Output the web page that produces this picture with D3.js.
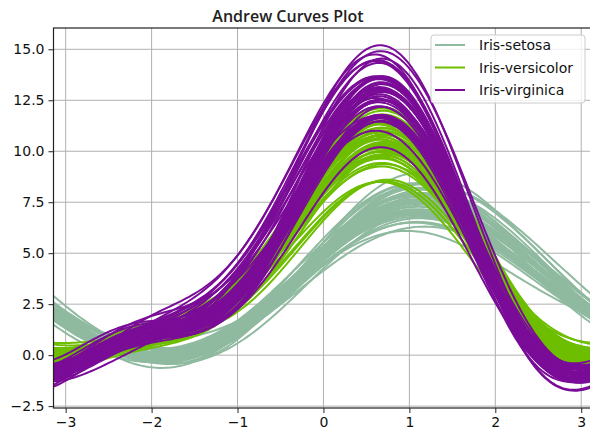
<!DOCTYPE html>
<html>
<head>
<meta charset="utf-8">
<script src="https://cdn.jsdelivr.net/npm/d3@7"></script>
<style>
  body { margin: 0; background: #fff; }
  svg { display: block; }
  text { font-family: "DejaVu Sans", sans-serif; }
</style>
</head>
<body>
<svg id="chart" width="590" height="432"></svg>
<script>
// Iris measurements: [sepal length, sepal width, petal length, petal width]
const setosa = [
  [5.1,3.5,1.4,0.2],[4.9,3.0,1.4,0.2],[4.7,3.2,1.3,0.2],[4.6,3.1,1.5,0.2],[5.0,3.6,1.4,0.2],
  [5.4,3.9,1.7,0.4],[4.6,3.4,1.4,0.3],[5.0,3.4,1.5,0.2],[4.4,2.9,1.4,0.2],[4.9,3.1,1.5,0.1],
  [5.4,3.7,1.5,0.2],[4.8,3.4,1.6,0.2],[4.8,3.0,1.4,0.1],[4.3,3.0,1.1,0.1],[5.8,4.0,1.2,0.2],
  [5.7,4.4,1.5,0.4],[5.4,3.9,1.3,0.4],[5.1,3.5,1.4,0.3],[5.7,3.8,1.7,0.3],[5.1,3.8,1.5,0.3],
  [5.4,3.4,1.7,0.2],[5.1,3.7,1.5,0.4],[4.6,3.6,1.0,0.2],[5.1,3.3,1.7,0.5],[4.8,3.4,1.9,0.2],
  [5.0,3.0,1.6,0.2],[5.0,3.4,1.6,0.4],[5.2,3.5,1.5,0.2],[5.2,3.4,1.4,0.2],[4.7,3.2,1.6,0.2],
  [4.8,3.1,1.6,0.2],[5.4,3.4,1.5,0.4],[5.2,4.1,1.5,0.1],[5.5,4.2,1.4,0.2],[4.9,3.1,1.5,0.1],
  [5.0,3.2,1.2,0.2],[5.5,3.5,1.3,0.2],[4.9,3.1,1.5,0.1],[4.4,3.0,1.3,0.2],[5.1,3.4,1.5,0.2],
  [5.0,3.5,1.3,0.3],[4.5,2.3,1.3,0.3],[4.4,3.2,1.3,0.2],[5.0,3.5,1.6,0.6],[5.1,3.8,1.9,0.4],
  [4.8,3.0,1.4,0.3],[5.1,3.8,1.6,0.2],[4.6,3.2,1.4,0.2],[5.3,3.7,1.5,0.2],[5.0,3.3,1.4,0.2]
];
const versicolor = [
  [7.0,3.2,4.7,1.4],[6.4,3.2,4.5,1.5],[6.9,3.1,4.9,1.5],[5.5,2.3,4.0,1.3],[6.5,2.8,4.6,1.5],
  [5.7,2.8,4.5,1.3],[6.3,3.3,4.7,1.6],[4.9,2.4,3.3,1.0],[6.6,2.9,4.6,1.3],[5.2,2.7,3.9,1.4],
  [5.0,2.0,3.5,1.0],[5.9,3.0,4.2,1.5],[6.0,2.2,4.0,1.0],[6.1,2.9,4.7,1.4],[5.6,2.9,3.6,1.3],
  [6.7,3.1,4.4,1.4],[5.6,3.0,4.5,1.5],[5.8,2.7,4.1,1.0],[6.2,2.2,4.5,1.5],[5.6,2.5,3.9,1.1],
  [5.9,3.2,4.8,1.8],[6.1,2.8,4.0,1.3],[6.3,2.5,4.9,1.5],[6.1,2.8,4.7,1.2],[6.4,2.9,4.3,1.3],
  [6.6,3.0,4.4,1.4],[6.8,2.8,4.8,1.4],[6.7,3.0,5.0,1.7],[6.0,2.9,4.5,1.5],[5.7,2.6,3.5,1.0],
  [5.5,2.4,3.8,1.1],[5.5,2.4,3.7,1.0],[5.8,2.7,3.9,1.2],[6.0,2.7,5.1,1.6],[5.4,3.0,4.5,1.5],
  [6.0,3.4,4.5,1.6],[6.7,3.1,4.7,1.5],[6.3,2.3,4.4,1.3],[5.6,3.0,4.1,1.3],[5.5,2.5,4.0,1.3],
  [5.5,2.6,4.4,1.2],[6.1,3.0,4.6,1.4],[5.8,2.6,4.0,1.2],[5.0,2.3,3.3,1.0],[5.6,2.7,4.2,1.3],
  [5.7,3.0,4.2,1.2],[5.7,2.9,4.2,1.3],[6.2,2.9,4.3,1.3],[5.1,2.5,3.0,1.1],[5.7,2.8,4.1,1.3]
];
const virginica = [
  [6.3,3.3,6.0,2.5],[5.8,2.7,5.1,1.9],[7.1,3.0,5.9,2.1],[6.3,2.9,5.6,1.8],[6.5,3.0,5.8,2.2],
  [7.6,3.0,6.6,2.1],[4.9,2.5,4.5,1.7],[7.3,2.9,6.3,1.8],[6.7,2.5,5.8,1.8],[7.2,3.6,6.1,2.5],
  [6.5,3.2,5.1,2.0],[6.4,2.7,5.3,1.9],[6.8,3.0,5.5,2.1],[5.7,2.5,5.0,2.0],[5.8,2.8,5.1,2.4],
  [6.4,3.2,5.3,2.3],[6.5,3.0,5.5,1.8],[7.7,3.8,6.7,2.2],[7.7,2.6,6.9,2.3],[6.0,2.2,5.0,1.5],
  [6.9,3.2,5.7,2.3],[5.6,2.8,4.9,2.0],[7.7,2.8,6.7,2.0],[6.3,2.7,4.9,1.8],[6.7,3.3,5.7,2.1],
  [7.2,3.2,6.0,1.8],[6.2,2.8,4.8,1.8],[6.1,3.0,4.9,1.8],[6.4,2.8,5.6,2.1],[7.2,3.0,5.8,1.6],
  [7.4,2.8,6.1,1.9],[7.9,3.8,6.4,2.0],[6.4,2.8,5.6,2.2],[6.3,2.8,5.1,1.5],[6.1,2.6,5.6,1.4],
  [7.7,3.0,6.1,2.3],[6.3,3.4,5.6,2.4],[6.4,3.1,5.5,1.8],[6.0,3.0,4.8,1.8],[6.9,3.1,5.4,2.1],
  [6.7,3.1,5.6,2.4],[6.9,3.1,5.1,2.3],[5.8,2.7,5.1,1.9],[6.8,3.2,5.9,2.3],[6.7,3.3,5.7,2.5],
  [6.7,3.0,5.2,2.3],[6.3,2.5,5.0,1.9],[6.5,3.0,5.2,2.0],[6.2,3.4,5.4,2.3],[5.9,3.0,5.1,1.8]
];

const classNames  = ["Iris-setosa", "Iris-versicolor", "Iris-virginica"];
const classColors = ["#8fbaa0", "#6ebe00", "#7a0c98"];
const xTicks = [-3, -2, -1, 0, 1, 2, 3];
const yTicks = [-2.5, 0, 2.5, 5, 7.5, 10, 12.5, 15];
const titleText = "Andrew Curves Plot";
const nSamples = 200;

// Andrews transform: f(t) = x1/sqrt(2) + x2 sin t + x3 cos t + x4 sin 2t
function andrews(row) {
  const [x1, x2, x3, x4] = row;
  return t => x1 / Math.SQRT2 + x2 * Math.sin(t) + x3 * Math.cos(t) + x4 * Math.sin(2 * t);
}

const ts = d3.range(nSamples).map(i => -Math.PI + 2 * Math.PI * i / (nSamples - 1));
const groups = [setosa, versicolor, virginica];
const curves = [];
groups.forEach((rows, ci) => rows.forEach(r => {
  const f = andrews(r);
  curves.push({ ci, pts: ts.map(t => [t, f(t)]) });
}));

const allY = curves.flatMap(c => c.pts.map(p => p[1]));
const [lo, hi] = d3.extent(allY);
const pad = (hi - lo) * 0.05;

const plot = { left: 53.5, right: 593.4, top: 28, bottom: 408 };
const x = d3.scaleLinear().domain([-Math.PI, Math.PI]).range([plot.left, plot.right]);
const y = d3.scaleLinear().domain([lo - pad, hi + pad]).range([plot.bottom, plot.top]);

const svg = d3.select("#chart");
svg.append("rect").attr("width", 590).attr("height", 432).attr("fill", "#fff");

svg.append("defs").append("clipPath").attr("id", "plotClip")
  .append("rect")
  .attr("x", plot.left).attr("y", plot.top)
  .attr("width", plot.right - plot.left).attr("height", plot.bottom - plot.top);

// grid
const grid = svg.append("g").attr("stroke", "#b0b0b0").attr("stroke-width", 1);
grid.selectAll("line.v").data(xTicks).join("line")
  .attr("x1", d => x(d)).attr("x2", d => x(d))
  .attr("y1", plot.top).attr("y2", plot.bottom);
grid.selectAll("line.h").data(yTicks).join("line")
  .attr("x1", plot.left).attr("x2", plot.right)
  .attr("y1", d => y(d)).attr("y2", d => y(d));

// curves
const line = d3.line().x(p => x(p[0])).y(p => y(p[1]));
svg.append("g").attr("clip-path", "url(#plotClip)")
  .selectAll("path").data(curves).join("path")
  .attr("d", c => line(c.pts))
  .attr("fill", "none")
  .attr("stroke", c => classColors[c.ci])
  .attr("stroke-width", 2);

// axes
const yAxis = svg.append("g").attr("transform", `translate(${plot.left},0)`)
  .call(d3.axisLeft(y).tickValues(yTicks).tickFormat(d3.format(".1f")).tickSize(5).tickPadding(4));
const xAxis = svg.append("g").attr("transform", `translate(0,${plot.bottom})`)
  .call(d3.axisBottom(x).tickValues(xTicks).tickFormat(d3.format("d")).tickSize(5).tickPadding(4));
[yAxis, xAxis].forEach(a => {
  a.select(".domain").remove();
  a.selectAll(".tick line").attr("stroke", "#222").attr("stroke-width", 1);
  a.selectAll(".tick text").attr("fill", "#111")
    .style("font-family", '"DejaVu Sans", sans-serif').style("font-size", "14px");
});

// spines
const spines = svg.append("g").attr("stroke", "#222").attr("stroke-width", 1.2).attr("fill", "none");
spines.append("rect")
  .attr("x", plot.left).attr("y", plot.top)
  .attr("width", plot.right - plot.left).attr("height", plot.bottom - plot.top);

// title
svg.append("text")
  .attr("x", 288).attr("y", 22)
  .attr("text-anchor", "middle")
  .style("font-family", '"Open Sans", sans-serif')
  .style("font-weight", 600)
  .style("font-size", "16px")
  .attr("fill", "#222")
  .text(titleText);

// legend
const legend = svg.append("g").attr("transform", "translate(431,35)");
legend.append("rect")
  .attr("width", 154).attr("height", 68).attr("rx", 3)
  .attr("fill", "#fff").attr("fill-opacity", 0.8)
  .attr("stroke", "#cccccc").attr("stroke-width", 1);
const items = legend.selectAll("g.item").data(classNames).join("g")
  .attr("transform", (d, i) => `translate(0,${10 + i * 22.5})`);
items.append("line")
  .attr("x1", 4).attr("x2", 34).attr("y1", 0).attr("y2", 0)
  .attr("stroke", (d, i) => classColors[i]).attr("stroke-width", 2);
items.append("text")
  .attr("x", 48).attr("y", 5)
  .style("font-size", "14px").attr("fill", "#111")
  .text(d => d);
</script>
</body>
</html>
